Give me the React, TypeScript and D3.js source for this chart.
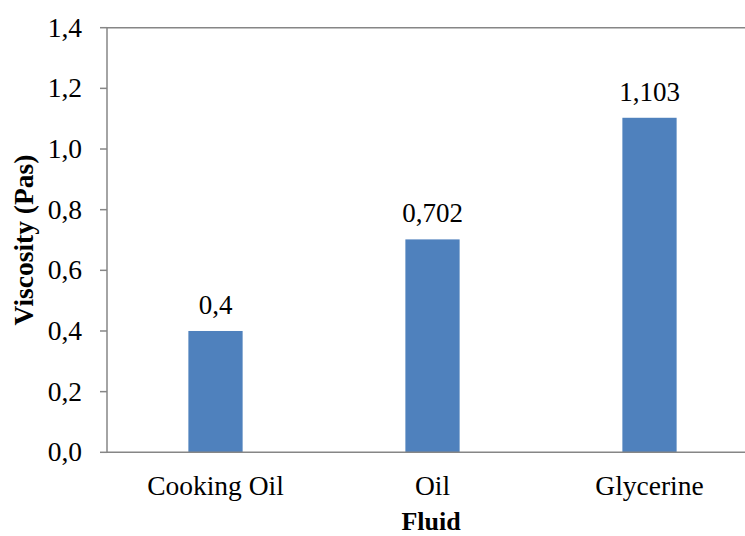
import * as d3 from 'd3'

const categories = ['Cooking Oil', 'Oil', 'Glycerine']
const viscosity = [0.4, 0.702, 1.103]
const labels = ['0,4', '0,702', '1,103']
const yTicks = [0, 0.2, 0.4, 0.6, 0.8, 1.0, 1.2, 1.4]

const W = 745
const H = 536
const left = 107
const top = 27.7
const bottom = 452.3
const FONT = "'Liberation Serif', 'Times New Roman', Times, 'DejaVu Serif', serif"
const AXIS = '#868686'

export default function App() {
  const x = d3.scaleBand<string>().domain(categories).range([left, left + 651]).padding(0)
  const y = d3.scaleLinear().domain([0, 1.4]).range([bottom, top])
  const barW = x.bandwidth() * 0.25
  const fmt = (v: number) => v.toFixed(1).replace('.', ',')

  return (
    <svg width={W} height={H} style={{ position: 'absolute', left: 0, top: 0, fontFamily: FONT }}>
      <rect width={W} height={H} fill="#fff" />
      {/* bars */}
      {categories.map((c, i) => (
        <rect
          key={c}
          x={x(c)! + x.bandwidth() / 2 - barW / 2}
          y={y(viscosity[i])}
          width={barW}
          height={bottom - y(viscosity[i])}
          fill="#4F81BD"
        />
      ))}
      {/* axes */}
      <line x1={left} x2={W} y1={top} y2={top} stroke={AXIS} strokeWidth={1.5} />
      <line x1={left} x2={W} y1={bottom} y2={bottom} stroke={AXIS} strokeWidth={1.5} />
      <line x1={left} x2={left} y1={top} y2={bottom} stroke={AXIS} strokeWidth={1.5} />
      {yTicks.map((t) => (
        <g key={t}>
          <line x1={left - 7} x2={left} y1={y(t)} y2={y(t)} stroke={AXIS} strokeWidth={1.5} />
          <text x={82} y={y(t) + 9} textAnchor="end" fontSize={27.5}>
            {fmt(t)}
          </text>
        </g>
      ))}
      {/* category labels */}
      {categories.map((c) => (
        <text key={c} x={x(c)! + x.bandwidth() / 2} y={495} textAnchor="middle" fontSize={27.5}>
          {c}
        </text>
      ))}
      {/* value labels */}
      {categories.map((c, i) => (
        <text key={c} x={x(c)! + x.bandwidth() / 2} y={y(viscosity[i]) - 17} textAnchor="middle" fontSize={27}>
          {labels[i]}
        </text>
      ))}
      <text x={431} y={530} textAnchor="middle" fontSize={26} fontWeight="bold">
        Fluid
      </text>
      <text transform="translate(33,240) rotate(-90)" textAnchor="middle" fontSize={27.5} fontWeight="bold">
        Viscosity (Pas)
      </text>
    </svg>
  )
}
